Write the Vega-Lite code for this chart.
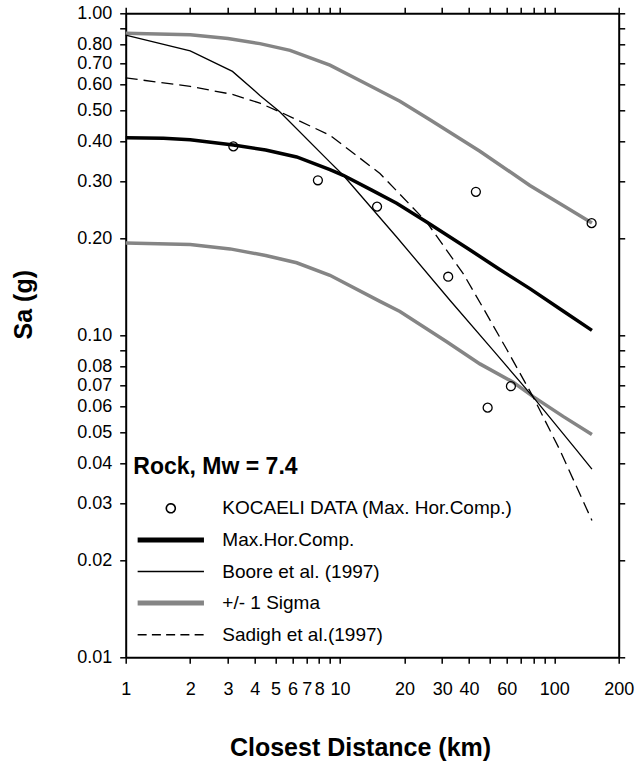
{
  "$schema": "https://vega.github.io/schema/vega-lite/v6.json",
  "width": 493,
  "height": 644,
  "autosize": "none",
  "padding": {"left": 125.7, "top": 13.3, "right": 20.3, "bottom": 108.7},
  "background": "white",
  "config": {
    "view": {"stroke": null},
    "font": "Liberation Sans",
    "axis": {
      "grid": false, "domainColor": "black", "domainWidth": 2,
      "tickColor": "black", "tickWidth": 1.5, "tickSize": 6,
      "labelColor": "black", "labelFont": "Liberation Sans", "labelFontSize": 18,
      "titleColor": "black", "titleFont": "Liberation Sans", "titleFontSize": 25, "titleFontWeight": "bold",
      "labelFlush": false, "labelOverlap": false, "labelBound": false
    }
  },
  "datasets": {
    "obs": [
      {"series": "KOCAELI DATA (Max. Hor.Comp.)", "d": 3.18, "sa": 0.386},
      {"series": "KOCAELI DATA (Max. Hor.Comp.)", "d": 7.89, "sa": 0.303},
      {"series": "KOCAELI DATA (Max. Hor.Comp.)", "d": 14.9, "sa": 0.251},
      {"series": "KOCAELI DATA (Max. Hor.Comp.)", "d": 43.1, "sa": 0.279},
      {"series": "KOCAELI DATA (Max. Hor.Comp.)", "d": 149.5, "sa": 0.223},
      {"series": "KOCAELI DATA (Max. Hor.Comp.)", "d": 32.0, "sa": 0.152},
      {"series": "KOCAELI DATA (Max. Hor.Comp.)", "d": 62.8, "sa": 0.0695},
      {"series": "KOCAELI DATA (Max. Hor.Comp.)", "d": 48.9, "sa": 0.0596}
    ],
    "curves": [
      {"series": "Max.Hor.Comp.", "curve": "median", "d": 1, "sa": 0.411},
      {"series": "Max.Hor.Comp.", "curve": "median", "d": 1.5, "sa": 0.409},
      {"series": "Max.Hor.Comp.", "curve": "median", "d": 2, "sa": 0.405},
      {"series": "Max.Hor.Comp.", "curve": "median", "d": 3.18, "sa": 0.39},
      {"series": "Max.Hor.Comp.", "curve": "median", "d": 4.5, "sa": 0.376},
      {"series": "Max.Hor.Comp.", "curve": "median", "d": 6.28, "sa": 0.358},
      {"series": "Max.Hor.Comp.", "curve": "median", "d": 8.98, "sa": 0.327},
      {"series": "Max.Hor.Comp.", "curve": "median", "d": 10.36, "sa": 0.314},
      {"series": "Max.Hor.Comp.", "curve": "median", "d": 14, "sa": 0.283},
      {"series": "Max.Hor.Comp.", "curve": "median", "d": 18.39, "sa": 0.257},
      {"series": "Max.Hor.Comp.", "curve": "median", "d": 25.39, "sa": 0.225},
      {"series": "Max.Hor.Comp.", "curve": "median", "d": 40, "sa": 0.185},
      {"series": "Max.Hor.Comp.", "curve": "median", "d": 55, "sa": 0.161},
      {"series": "Max.Hor.Comp.", "curve": "median", "d": 77, "sa": 0.1396},
      {"series": "Max.Hor.Comp.", "curve": "median", "d": 110, "sa": 0.119},
      {"series": "Max.Hor.Comp.", "curve": "median", "d": 150, "sa": 0.1036},

      {"series": "Boore et al. (1997)", "curve": "boore", "d": 1, "sa": 0.855},
      {"series": "Boore et al. (1997)", "curve": "boore", "d": 2, "sa": 0.764},
      {"series": "Boore et al. (1997)", "curve": "boore", "d": 3.15, "sa": 0.66},
      {"series": "Boore et al. (1997)", "curve": "boore", "d": 4.23, "sa": 0.556},
      {"series": "Boore et al. (1997)", "curve": "boore", "d": 5.25, "sa": 0.494},
      {"series": "Boore et al. (1997)", "curve": "boore", "d": 8.98, "sa": 0.345},
      {"series": "Boore et al. (1997)", "curve": "boore", "d": 10.36, "sa": 0.314},
      {"series": "Boore et al. (1997)", "curve": "boore", "d": 18.39, "sa": 0.202},
      {"series": "Boore et al. (1997)", "curve": "boore", "d": 32.6, "sa": 0.1285},
      {"series": "Boore et al. (1997)", "curve": "boore", "d": 51.9, "sa": 0.0898},
      {"series": "Boore et al. (1997)", "curve": "boore", "d": 79.8, "sa": 0.0643},
      {"series": "Boore et al. (1997)", "curve": "boore", "d": 127.2, "sa": 0.044},
      {"series": "Boore et al. (1997)", "curve": "boore", "d": 150, "sa": 0.0384},

      {"series": "+/- 1 Sigma", "curve": "upper", "d": 1, "sa": 0.867},
      {"series": "+/- 1 Sigma", "curve": "upper", "d": 2, "sa": 0.858},
      {"series": "+/- 1 Sigma", "curve": "upper", "d": 3, "sa": 0.835},
      {"series": "+/- 1 Sigma", "curve": "upper", "d": 4.23, "sa": 0.805},
      {"series": "+/- 1 Sigma", "curve": "upper", "d": 5.85, "sa": 0.767},
      {"series": "+/- 1 Sigma", "curve": "upper", "d": 8.98, "sa": 0.69},
      {"series": "+/- 1 Sigma", "curve": "upper", "d": 12.84, "sa": 0.611},
      {"series": "+/- 1 Sigma", "curve": "upper", "d": 19.05, "sa": 0.533},
      {"series": "+/- 1 Sigma", "curve": "upper", "d": 26.3, "sa": 0.467},
      {"series": "+/- 1 Sigma", "curve": "upper", "d": 45, "sa": 0.373},
      {"series": "+/- 1 Sigma", "curve": "upper", "d": 77, "sa": 0.292},
      {"series": "+/- 1 Sigma", "curve": "upper", "d": 110, "sa": 0.253},
      {"series": "+/- 1 Sigma", "curve": "upper", "d": 150, "sa": 0.2233},

      {"series": "+/- 1 Sigma", "curve": "lower", "d": 1, "sa": 0.1935},
      {"series": "+/- 1 Sigma", "curve": "lower", "d": 2, "sa": 0.1915},
      {"series": "+/- 1 Sigma", "curve": "lower", "d": 3.07, "sa": 0.1855},
      {"series": "+/- 1 Sigma", "curve": "lower", "d": 4.5, "sa": 0.177},
      {"series": "+/- 1 Sigma", "curve": "lower", "d": 6.28, "sa": 0.168},
      {"series": "+/- 1 Sigma", "curve": "lower", "d": 8.98, "sa": 0.1536},
      {"series": "+/- 1 Sigma", "curve": "lower", "d": 15.37, "sa": 0.1275},
      {"series": "+/- 1 Sigma", "curve": "lower", "d": 19.05, "sa": 0.1185},
      {"series": "+/- 1 Sigma", "curve": "lower", "d": 31.5, "sa": 0.0955},
      {"series": "+/- 1 Sigma", "curve": "lower", "d": 45, "sa": 0.0815},
      {"series": "+/- 1 Sigma", "curve": "lower", "d": 64.4, "sa": 0.0715},
      {"series": "+/- 1 Sigma", "curve": "lower", "d": 79.8, "sa": 0.0645},
      {"series": "+/- 1 Sigma", "curve": "lower", "d": 110, "sa": 0.056},
      {"series": "+/- 1 Sigma", "curve": "lower", "d": 150, "sa": 0.0492},

      {"series": "Sadigh et al.(1997)", "curve": "sadigh", "d": 1, "sa": 0.63},
      {"series": "Sadigh et al.(1997)", "curve": "sadigh", "d": 2, "sa": 0.593},
      {"series": "Sadigh et al.(1997)", "curve": "sadigh", "d": 3.15, "sa": 0.56},
      {"series": "Sadigh et al.(1997)", "curve": "sadigh", "d": 4.23, "sa": 0.526},
      {"series": "Sadigh et al.(1997)", "curve": "sadigh", "d": 5.25, "sa": 0.494},
      {"series": "Sadigh et al.(1997)", "curve": "sadigh", "d": 8.98, "sa": 0.418},
      {"series": "Sadigh et al.(1997)", "curve": "sadigh", "d": 11.13, "sa": 0.375},
      {"series": "Sadigh et al.(1997)", "curve": "sadigh", "d": 15.37, "sa": 0.318},
      {"series": "Sadigh et al.(1997)", "curve": "sadigh", "d": 25.39, "sa": 0.2248},
      {"series": "Sadigh et al.(1997)", "curve": "sadigh", "d": 31.5, "sa": 0.1836},
      {"series": "Sadigh et al.(1997)", "curve": "sadigh", "d": 37.6, "sa": 0.1555},
      {"series": "Sadigh et al.(1997)", "curve": "sadigh", "d": 45.8, "sa": 0.124},
      {"series": "Sadigh et al.(1997)", "curve": "sadigh", "d": 60, "sa": 0.0905},
      {"series": "Sadigh et al.(1997)", "curve": "sadigh", "d": 79.8, "sa": 0.0643},
      {"series": "Sadigh et al.(1997)", "curve": "sadigh", "d": 106.3, "sa": 0.044},
      {"series": "Sadigh et al.(1997)", "curve": "sadigh", "d": 150, "sa": 0.0266}
    ]
  },
  "layer": [
    {
      "data": {"name": "curves"},
      "transform": [{"filter": "datum.series === '+/- 1 Sigma'"}],
      "mark": {"type": "line", "strokeWidth": 3.5},
      "encoding": {
        "x": {"field": "d", "type": "quantitative",
          "scale": {"type": "log", "domain": [1, 200], "nice": false},
          "axis": {"orient": "top", "labels": false, "title": null,
            "values": [1,2,3,4,5,6,7,8,9,10,20,30,40,50,60,70,80,90,100,200]}},
        "y": {"field": "sa", "type": "quantitative",
          "scale": {"type": "log", "domain": [0.01, 1], "nice": false},
          "axis": {"orient": "right", "labels": false, "title": null,
            "values": [0.01,0.02,0.03,0.04,0.05,0.06,0.07,0.08,0.09,0.1,0.2,0.3,0.4,0.5,0.6,0.7,0.8,0.9,1]}},
        "detail": {"field": "curve"},
        "color": {"field": "series", "type": "nominal",
          "scale": {"domain": ["KOCAELI DATA (Max. Hor.Comp.)", "Max.Hor.Comp.", "Boore et al. (1997)", "+/- 1 Sigma", "Sadigh et al.(1997)"],
                    "range": ["black", "black", "black", "#858585", "black"]},
          "legend": {
            "title": "Rock, Mw = 7.4", "orient": "none", "legendX": 7.6, "legendY": 443, "padding": 0, "columns": 1,
            "titleFontSize": 23, "titleFontWeight": "bold", "titleColor": "black", "titleFont": "Liberation Sans",
            "titleAnchor": "start", "titlePadding": 19,
            "labelFontSize": 19, "labelColor": "black", "labelFont": "Liberation Sans", "labelOffset": 42, "labelLimit": 400,
            "symbolOffset": 28, "clipHeight": 20, "rowPadding": 11.6, "symbolSize": 4400, "symbolStrokeWidth": 1.5,
            "encode": {"symbols": {"update": {
              "shape": {"signal": "datum.value === 'KOCAELI DATA (Max. Hor.Comp.)' ? 'circle' : 'stroke'"},
              "size": {"signal": "datum.value === 'KOCAELI DATA (Max. Hor.Comp.)' ? 80 : 4400"},
              "strokeWidth": {"signal": "(datum.value === 'Max.Hor.Comp.' || datum.value === '+/- 1 Sigma') ? 5 : 1.6"},
              "strokeDash": {"signal": "datum.value === 'Sadigh et al.(1997)' ? [9, 5.25] : [1, 0]"},
              "stroke": {"signal": "datum.value === '+/- 1 Sigma' ? '#858585' : 'black'"},
              "fill": {"value": "transparent"},
              "opacity": {"value": 1}
            }}}
          }}
      }
    },
    {
      "data": {"name": "curves"},
      "transform": [{"filter": "datum.series === 'Boore et al. (1997)'"}],
      "mark": {"type": "line", "strokeWidth": 1.3},
      "encoding": {
        "x": {"field": "d", "type": "quantitative", "axis": null},
        "y": {"field": "sa", "type": "quantitative", "axis": null},
        "color": {"field": "series", "type": "nominal"}
      }
    },
    {
      "data": {"name": "curves"},
      "transform": [{"filter": "datum.series === 'Sadigh et al.(1997)'"}],
      "mark": {"type": "line", "strokeWidth": 1.3, "strokeDash": [12, 6]},
      "encoding": {
        "x": {"field": "d", "type": "quantitative", "axis": null},
        "y": {"field": "sa", "type": "quantitative", "axis": null},
        "color": {"field": "series", "type": "nominal"}
      }
    },
    {
      "data": {"name": "curves"},
      "transform": [{"filter": "datum.series === 'Max.Hor.Comp.'"}],
      "mark": {"type": "line", "strokeWidth": 3.5},
      "encoding": {
        "x": {"field": "d", "type": "quantitative", "axis": null},
        "y": {"field": "sa", "type": "quantitative", "axis": null},
        "color": {"field": "series", "type": "nominal"}
      }
    },
    {
      "data": {"name": "obs"},
      "mark": {"type": "point", "filled": false, "size": 80, "strokeWidth": 1.3, "opacity": 1},
      "encoding": {
        "x": {"field": "d", "type": "quantitative",
          "axis": {"orient": "bottom", "title": "Closest Distance (km)",
            "values": [1,2,3,4,5,6,7,8,9,10,20,30,40,50,60,70,80,90,100,200],
            "labelExpr": "indexof([1,2,3,4,5,6,7,8,10,20,30,40,60,100,200], datum.value) >= 0 ? '' + datum.value : ''",
            "labelPadding": 17, "titleX": 234.3, "titleY": 98, "titleBaseline": "alphabetic", "titleAnchor": null}},
        "y": {"field": "sa", "type": "quantitative",
          "axis": {"orient": "left", "title": "Sa (g)",
            "values": [0.01,0.02,0.03,0.04,0.05,0.06,0.07,0.08,0.09,0.1,0.2,0.3,0.4,0.5,0.6,0.7,0.8,0.9,1],
            "labelExpr": "(datum.value === 0.09 || datum.value === 0.9) ? '' : format(datum.value, '.2f')",
            "labelPadding": 8, "titleX": -94, "titleY": 290.9, "titleAngle": 270, "titleBaseline": "alphabetic", "titleAlign": "center"}},
        "color": {"field": "series", "type": "nominal"}
      }
    }
  ],
  "resolve": {"axis": {"x": "independent", "y": "independent"}}
}
